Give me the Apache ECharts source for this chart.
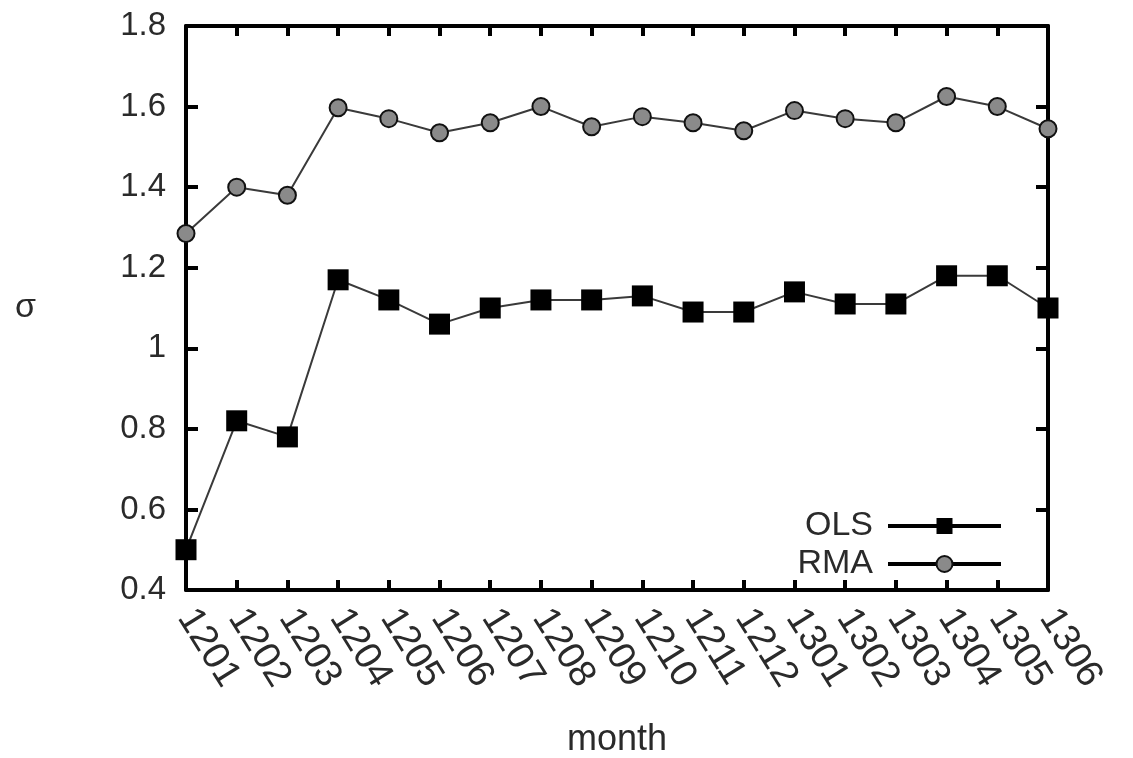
<!DOCTYPE html>
<html><head><meta charset="utf-8">
<script src="https://cdn.jsdelivr.net/npm/echarts@6/dist/echarts.min.js"></script>
<style>html,body{margin:0;padding:0;background:#fff}#c{width:1133px;height:758px}</style>
</head><body><div id="c"></div>
<script>
var categories = ['1201','1202','1203','1204','1205','1206','1207','1208','1209','1210','1211','1212','1301','1302','1303','1304','1305','1306'];
var olsValues = [0.50,0.82,0.78,1.17,1.12,1.06,1.10,1.12,1.12,1.13,1.09,1.09,1.14,1.11,1.11,1.18,1.18,1.10];
var rmaValues = [1.285,1.40,1.38,1.597,1.57,1.535,1.56,1.60,1.55,1.575,1.56,1.54,1.59,1.57,1.56,1.625,1.60,1.545];
var yTicks = {min:0.4, max:1.8, interval:0.2};

var font = 'Liberation Sans';
var txt = '#2a2a2a';
var chart = echarts.init(document.getElementById('c'), null, {renderer:'canvas'});
var axisLineStyle = {color:'#000', width:4};
chart.setOption({
  animation:false,
  backgroundColor:'#fff',
  grid:{left:186, right:85, top:26, bottom:168, containLabel:false, outerBoundsMode:'none'},
  legend:{
    right:125, top:504, orient:'vertical', align:'right',
    itemWidth:113, itemHeight:20, itemGap:4,
    textStyle:{fontFamily:font, fontSize:34, color:txt, padding:[0,10,0,0]},
    lineStyle:{color:'#000', width:4},
    data:['OLS','RMA']
  },
  xAxis:[{
    type:'category', data:categories, boundaryGap:false, position:'bottom',
    axisLine:{show:true, lineStyle:axisLineStyle},
    axisTick:{show:true, inside:true, length:10, interval:0, lineStyle:{color:'#000', width:4}},
    axisLabel:{rotate:-58, interval:0, hideOverlap:false, fontFamily:font, fontSize:38, color:txt, margin:22},
    splitLine:{show:false},
    name:'month', nameLocation:'middle', nameGap:132,
    nameTextStyle:{fontFamily:font, fontSize:36, color:txt}
  },{
    type:'category', data:categories, boundaryGap:false, position:'top',
    axisLine:{show:true, lineStyle:axisLineStyle},
    axisTick:{show:true, inside:true, length:10, interval:0, lineStyle:{color:'#000', width:4}},
    axisLabel:{show:false}, splitLine:{show:false}
  }],
  yAxis:[{
    type:'value', min:yTicks.min, max:yTicks.max, interval:yTicks.interval, position:'left',
    axisLine:{show:true, lineStyle:axisLineStyle},
    axisTick:{show:true, inside:true, length:12, lineStyle:{color:'#000', width:4}},
    axisLabel:{fontFamily:font, fontSize:33, color:txt, margin:20,
      formatter:function(v){return String(Math.round(v*10)/10);}},
    splitLine:{show:false},
    name:'σ', nameLocation:'middle', nameRotate:0, nameGap:150,
    nameTextStyle:{fontFamily:font, fontSize:34, color:txt}
  },{
    type:'value', min:yTicks.min, max:yTicks.max, interval:yTicks.interval, position:'right',
    axisLine:{show:true, lineStyle:axisLineStyle},
    axisTick:{show:true, inside:true, length:12, lineStyle:{color:'#000', width:4}},
    axisLabel:{show:false}, splitLine:{show:false}
  }],
  series:[{
    name:'OLS', type:'line', data:olsValues, xAxisIndex:0, yAxisIndex:0,
    symbol:'rect', symbolSize:21, showAllSymbol:true,
    lineStyle:{color:'#3a3a3a', width:2},
    itemStyle:{color:'#000', borderColor:'#000', borderWidth:0}
  },{
    name:'RMA', type:'line', data:rmaValues, xAxisIndex:0, yAxisIndex:0,
    symbol:'circle', symbolSize:17, showAllSymbol:true,
    lineStyle:{color:'#3a3a3a', width:2},
    itemStyle:{color:'#8a8a8a', borderColor:'#111', borderWidth:2}
  }]
});
</script></body></html>
